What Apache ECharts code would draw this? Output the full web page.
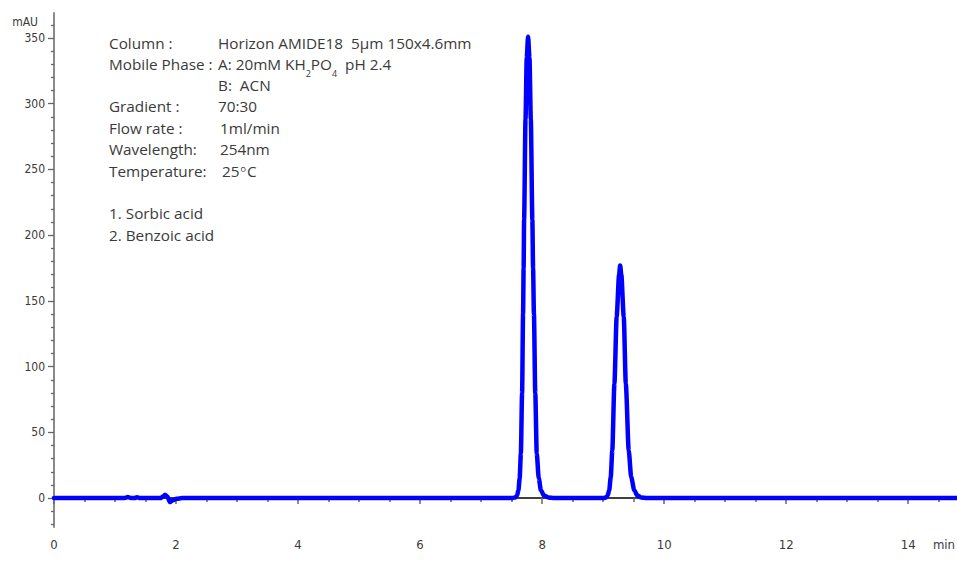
<!DOCTYPE html>
<html>
<head>
<meta charset="utf-8">
<script src="https://cdn.jsdelivr.net/npm/echarts@6/dist/echarts.min.js"></script>
<style>
html,body{margin:0;padding:0;background:#fff;}
#chart{width:957px;height:565px;}
</style>
</head>
<body>
<div id="chart"></div>
<script>
// ---- data (time in min, absorbance in mAU) ----
const baselineStart = [[0,0],[0.5,0],[1.0,0],[1.16,0],[1.21,0.8],[1.26,0],[1.32,0],[1.36,0.7],[1.41,0],[1.74,0],[1.79,1.2],[1.82,2.5],[1.86,1],[1.90,-3],[1.95,-1.5],[2.01,-0.5],[2.1,0],[3,0],[5,0],[7.0,0],[7.45,0]];
const peak1 = [[7.52,0.1],[7.56,0.5],[7.59,2],[7.612,6],[7.632,15],[7.652,34],[7.672,80],[7.688,140],[7.697,175],[7.705,212],[7.728,288],[7.748,335],[7.770,351],[7.793,335],[7.815,288],[7.840,212],[7.852,175],[7.866,140],[7.888,80],[7.912,34],[7.945,15],[7.98,6],[8.03,2],[8.10,0.5],[8.2,0.1],[8.4,0]];
const peak2 = [[8.9,0],[9.0,0.1],[9.05,0.5],[9.075,2],[9.10,6],[9.125,16],[9.150,36],[9.185,87],[9.222,138],[9.262,170],[9.279,177],[9.298,170],[9.338,138],[9.372,87],[9.420,36],[9.46,16],[9.51,6],[9.56,2],[9.62,0.5],[9.72,0.1],[9.85,0]];
const baselineEnd = [[10,0],[12,0],[14,0],[14.8,0]];

const xMajorTicks = [0,2,4,6,8,10,12,14];
const xMinorTicks = [0.5,1,1.5,2.5,3,3.5,4.5,5,5.5,6.5,7,7.5,8.5,9,9.5,10.5,11,11.5,12.5,13,13.5,14.5];
const yMajorTicks = [0,50,100,150,200,250,300,350];
const yMinorTicks = [-20,-10,10,20,30,40,60,70,80,90,110,120,130,140,160,170,180,190,210,220,230,240,260,270,280,290,310,320,330,340,360];

const infoLabels = ['Column :','Mobile Phase :','Gradient :','Flow rate :','Wavelength:','Temperature:'];
const compounds = ['1. Sorbic acid','2. Benzoic acid'];
const xUnit = 'min';
const yUnit = 'mAU';

// ---- chart ----
const series = baselineStart.concat(peak1, peak2, baselineEnd);
const chart = echarts.init(document.getElementById('chart'), null, {renderer:'svg'});
const tickFont = '"Liberation Sans Narrow","DejaVu Sans Condensed",sans-serif';
const txtFont = '"Open Sans","Liberation Sans",Arial,sans-serif';
const tc = '#3a3a3a';
const FS = 15.3;
const X0 = 109, X1 = 218;
function t(x, yc, text) {
  return {type:'text', left:x, top:yc-7.5, silent:true,
    style:{text:text, fontSize:FS, fontFamily:txtFont, fontWeight:'normal', fill:tc, lineHeight:15}};
}
const rich = {
  a:{fontSize:FS, fontFamily:txtFont, fontWeight:'normal', color:tc, lineHeight:15, verticalAlign:'top', textBorderWidth:0},
  b:{fontSize:9, fontFamily:txtFont, fontWeight:'normal', color:tc, lineHeight:9, verticalAlign:'top', padding:[12,0,0,0], textBorderWidth:0},
  c:{fontSize:9, fontFamily:txtFont, fontWeight:'normal', color:tc, lineHeight:9, verticalAlign:'top', padding:[0,1,0,1], textBorderWidth:0}
};
const graphic = [
  t(X0,43,infoLabels[0]), t(X1,43,'Horizon AMIDE18  5μm 150x4.6mm'),
  t(X0,64,infoLabels[1]),
  {type:'text', left:X1, top:64-7.5, silent:true, style:{text:'{a|A: 20mM KH}{b|2}{a|PO}{b|4}{a|  pH 2.4}', rich:rich, fill:tc, textBorderWidth:0}},
  t(X1,85,'B:  ACN'),
  t(X0,106,infoLabels[2]), t(X1,106,'70:30'),
  t(X0,128,infoLabels[3]), t(X1+2,128,'1ml/min'),
  t(X0,149,infoLabels[4]), t(X1+2,149,'254nm'),
  t(X0,171,infoLabels[5]),
  {type:'text', left:X1+4, top:171-7.5, silent:true, style:{text:'{a|25}{c|o}{a|C}', rich:rich, fill:tc, textBorderWidth:0}},
  t(X0,213,compounds[0]), t(X0,235,compounds[1]),
  {type:'text', right:2, top:538, silent:true, style:{text:xUnit, fontSize:13, fontFamily:tickFont, fill:tc}}
];

chart.setOption({
  animation:false,
  backgroundColor:'#fff',
  grid:{left:54, right:0, top:13, bottom:38, containLabel:false, outerBoundsMode:'none'},
  xAxis:[{
    type:'value', min:0, max:14.8, position:'bottom',
    axisLine:{show:true, lineStyle:{color:'#000', width:1.5}},
    axisTick:{show:true, customValues:xMajorTicks, length:6, lineStyle:{color:'#666', width:1.5}},
    axisLabel:{customValues:xMajorTicks, margin:11, fontFamily:tickFont, fontSize:13, color:tc},
    splitLine:{show:false}
  },{
    type:'value', min:0, max:14.8, position:'bottom', offset:0,
    axisLine:{show:false},
    axisTick:{show:true, customValues:xMinorTicks, length:4, lineStyle:{color:'#666', width:1.5}},
    axisLabel:{show:false}, splitLine:{show:false}
  }],
  yAxis:[{
    type:'value', min:-22, max:369, position:'left',
    name:yUnit, nameLocation:'end', nameGap:-15,
    nameTextStyle:{fontFamily:tickFont, fontSize:12, color:tc, align:'right', padding:[0,16,0,0]},
    axisLine:{show:true, lineStyle:{color:'#8a8a8a', width:2}},
    axisTick:{show:true, customValues:yMajorTicks, length:6, lineStyle:{color:'#666', width:1.3}},
    axisLabel:{customValues:yMajorTicks, margin:9, fontFamily:tickFont, fontSize:12, color:tc},
    splitLine:{show:false}
  },{
    type:'value', min:-22, max:369, position:'left', offset:0,
    axisLine:{show:false},
    axisTick:{show:true, customValues:yMinorTicks, length:3, lineStyle:{color:'#666', width:1.3}},
    axisLabel:{show:false}, splitLine:{show:false}
  }],
  graphic:graphic,
  series:[{
    type:'line', xAxisIndex:0, yAxisIndex:0, data:series,
    showSymbol:false, smooth:0.25, smoothMonotone:'x',
    lineStyle:{color:'#0000ff', width:4.5, cap:'round', join:'round'}, itemStyle:{color:'#0000ff'}
  }]
});
</script>
</body>
</html>
